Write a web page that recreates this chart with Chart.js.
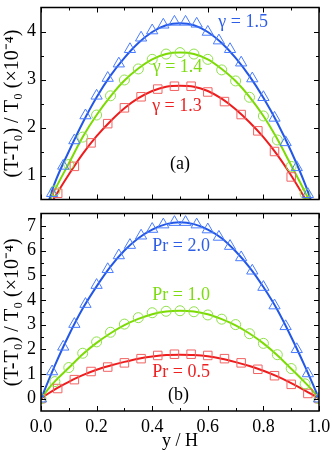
<!DOCTYPE html>
<html><head><meta charset="utf-8">
<script src="https://cdn.jsdelivr.net/npm/chart.js@4"></script>
<style>
html,body{margin:0;padding:0;background:#fff;}
#wrap{position:relative;width:332px;height:453px;overflow:hidden;}
#c1{position:absolute;left:0;top:0;}
#c2{position:absolute;left:0;top:206px;}
</style></head><body>
<div id="wrap">
<canvas id="c1" width="332" height="207" style="width:332px;height:207px"></canvas>
<canvas id="c2" width="332" height="247" style="width:332px;height:247px"></canvas>
</div>
<script>
// ---------- data ----------
const lineX = [0,0.025,0.05,0.1,0.15,0.2,0.25,0.3,0.35,0.4,0.45,0.5,0.55,0.6,0.65,0.7,0.75,0.8,0.85,0.9,0.95,0.975,1];
const gamma15Line = [0,0.42,0.85,1.5,2.1,2.63,3.08,3.45,3.76,3.99,4.13,4.17,4.13,3.99,3.76,3.45,3.07,2.62,2.1,1.5,0.82,0.42,0];
const gamma14Line = [0,0.38,0.7,1.25,1.8,2.26,2.65,2.98,3.23,3.42,3.53,3.56,3.53,3.42,3.22,2.97,2.64,2.24,1.76,1.21,0.65,0.35,0];
const gamma13Line = [0,0.28,0.55,1.02,1.45,1.82,2.13,2.4,2.61,2.76,2.85,2.87,2.85,2.76,2.6,2.38,2.11,1.8,1.43,1.0,0.52,0.27,0];
const pr20Line = [0,0.68,1.35,2.57,3.65,4.55,5.35,6.0,6.5,6.85,7.07,7.15,7.07,6.85,6.5,5.97,5.32,4.52,3.6,2.5,1.3,0.66,0];
const pr10Line = [0,0.38,0.7,1.25,1.8,2.26,2.65,2.98,3.23,3.42,3.53,3.56,3.53,3.42,3.22,2.97,2.64,2.24,1.76,1.21,0.65,0.35,0];
const pr05Line = [0,0.2,0.38,0.68,0.95,1.17,1.34,1.49,1.62,1.71,1.77,1.78,1.77,1.72,1.62,1.48,1.32,1.13,0.9,0.63,0.33,0.17,0];

const triX  = [0,0.04,0.08,0.12,0.16,0.2,0.24,0.28,0.32,0.36,0.4,0.44,0.48,0.52,0.56,0.6,0.64,0.68,0.72,0.76,0.8,0.84,0.88,0.92,0.96,1];
const circX = [0,0.05,0.1,0.15,0.2,0.25,0.3,0.35,0.4,0.45,0.5,0.55,0.6,0.65,0.7,0.75,0.8,0.85,0.9,0.95,1];
const sqX   = [0,0.06,0.12,0.18,0.24,0.3,0.36,0.42,0.48,0.54,0.6,0.66,0.72,0.78,0.84,0.9,0.96,1];

const gamma15Tri  = [0,0.63,1.2,1.73,2.25,2.66,3.03,3.33,3.63,3.87,4.02,4.14,4.2,4.2,4.16,3.99,3.81,3.63,3.35,3.02,2.63,2.2,1.69,1.17,0.61,0];
const gamma14Circ = [0,0.68,1.23,1.8,2.26,2.66,2.99,3.22,3.42,3.53,3.56,3.53,3.42,3.2,2.97,2.63,2.24,1.74,1.19,0.62,0];
const gamma13Sq   = [0,0.63,1.19,1.68,2.08,2.41,2.64,2.8,2.86,2.86,2.74,2.54,2.27,1.93,1.5,0.97,0.3,0];

const pr20Tri  = [0,1.1,2.1,3.02,3.83,4.6,5.24,5.8,6.22,6.6,6.87,7.05,7.15,7.15,7.05,6.85,6.55,6.18,5.72,5.18,4.52,3.77,2.93,2.0,1.02,0];
const pr10Circ = [0,0.69,1.26,1.84,2.3,2.69,3.02,3.28,3.48,3.54,3.56,3.52,3.39,3.22,3.0,2.63,2.24,1.78,1.22,0.6,0];
const pr05Sq   = [0,0.41,0.77,1.1,1.28,1.45,1.62,1.75,1.8,1.8,1.75,1.62,1.45,1.19,0.93,0.58,0.21,0];

const xTicks = [0,0.2,0.4,0.6,0.8,1.0];
const xTickLabels = ['0.0','0.2','0.4','0.6','0.8','1.0'];
const xMinor = [0.1,0.3,0.5,0.7,0.9];
const yTopTicks = [1,2,3,4];
const yTopLabels = ['1','2','3','4'];
const yTopMinor = [1.5,2.5,3.5];
const yBotTicks = [0,1,2,3,4,5,6,7];
const yBotLabels = ['0','1','2','3','4','5','6','7'];
const yBotMinor = [0.5,1.5,2.5,3.5,4.5,5.5,6.5];

const topNotes = ['γ = 1.5','γ = 1.4','γ = 1.3','(a)'];
const topNoteX = [0.727,0.491,0.489,0.5];
const topNoteY = [4.19,3.25,2.45,1.24];
const botNotes = ['Pr = 2.0','Pr = 1.0','Pr = 0.5','(b)'];
const botNoteX = [0.504,0.504,0.504,0.495];
const botNoteY = [6.16,4.2,1.05,0.15];

const yTitle = '(T-T₀) / T₀ (×10⁻⁴)';
const xTitle = 'y / H';

// ---------- styles ----------
const C = {
  blueLine:'#2357e6', blueMk:'#4a7cff', blueTx:'#2d5ee8',
  greenLine:'#7cdb00', greenMk:'#8fe04a', greenTx:'#7cdc10',
  redLine:'#ee1c1c', redMk:'#f26262', redTx:'#ee2020'
};
const noteColors = [C.blueTx, C.greenTx, C.redTx, '#000'];

Chart.defaults.font.family = '"Liberation Serif","Times New Roman",serif';
Chart.defaults.font.size = 18;
Chart.defaults.color = '#000';

const pts = (xs, ys) => xs.map((x,i)=>({x, y: ys[i]}));

const frameTicks = {
  id:'frameTicks',
  afterDraw(chart, args, o){
    const {ctx, chartArea:a, scales:{x,y}} = chart;
    ctx.save();
    ctx.strokeStyle = '#000';
    ctx.lineWidth = 1;
    ctx.beginPath();
    const vx = (vals, len) => vals.forEach(v=>{ const p = Math.round(x.getPixelForValue(v))+0.5;
      ctx.moveTo(p, a.bottom); ctx.lineTo(p, a.bottom-len); ctx.moveTo(p, a.top); ctx.lineTo(p, a.top+len); });
    const vy = (vals, len) => vals.forEach(v=>{ const p = Math.round(y.getPixelForValue(v))+0.5;
      ctx.moveTo(a.left, p); ctx.lineTo(a.left+len, p); ctx.moveTo(a.right, p); ctx.lineTo(a.right-len, p); });
    vx(o.xMajor, 5); vx(o.xMinor, 3); vy(o.yMajor, 5); vy(o.yMinor, 3);
    ctx.stroke();
    ctx.lineWidth = 1.5;
    ctx.strokeRect(a.left, a.top, a.right-a.left, a.bottom-a.top);
    ctx.restore();
  }
};
const notes = {
  id:'notes',
  afterDatasetsDraw(chart, args, o){
    const {ctx, scales:{x,y}} = chart;
    ctx.save();
    ctx.font = '18px "Liberation Serif","Times New Roman",serif';
    ctx.textAlign = 'center'; ctx.textBaseline = 'middle';
    o.texts.forEach((t,i)=>{
      ctx.fillStyle = o.colors[i];
      ctx.fillText(t, x.getPixelForValue(o.xs[i]), y.getPixelForValue(o.ys[i]));
    });
    ctx.restore();
  }
};

function lineDs(xs, ys, color){
  return {type:'line', data: pts(xs, ys), borderColor: color, borderWidth: 2, pointRadius: 0,
    cubicInterpolationMode:'monotone', fill:false};
}
function mkDs(xs, ys, color, style, r){
  return {type:'scatter', data: pts(xs, ys), borderColor: color, backgroundColor:'rgba(0,0,0,0)',
    pointStyle: style, pointRadius: r, pointBorderWidth: 1, showLine:false};
}

function makeChart(id, cfg){
  const yScale = {
    type:'linear', min: cfg.yMin, max: cfg.yMax,
    afterBuildTicks: s => { s.ticks = cfg.yTicks.map(v=>({value:v})); },
    afterFit: s => { s.width = 41; s.paddingTop = 0; s.paddingBottom = 0; },
    grid:{display:false, drawTicks:false}, border:{display:false},
    ticks:{padding:5, color:'#000', font:{size:18}, callback:(v,i)=>cfg.yLabels[i]},
    title:{display:true, text: yTitle, color:'#000', font:{size:20}, padding:{top:1,bottom:0}}
  };
  const xScale = cfg.showX ? {
    type:'linear', min:0, max:1,
    afterBuildTicks: s => { s.ticks = xTicks.map(v=>({value:v})); },
    afterFit: s => { s.height = 42; s.paddingLeft = 0; s.paddingRight = 0; },
    grid:{display:false, drawTicks:false}, border:{display:false},
    ticks:{padding:5, color:'#000', font:{size:18}, maxRotation:0, autoSkip:false, callback:(v,i)=>xTickLabels[i]},
    title:{display:true, text: xTitle, color:'#000', font:{size:18}, padding:{top:0,bottom:1}}
  } : {type:'linear', min:0, max:1, display:false};
  return new Chart(document.getElementById(id), {
    data:{datasets: cfg.datasets},
    options:{
      responsive:false, animation:false, devicePixelRatio:1,
      layout:{padding: cfg.padding},
      scales:{x: xScale, y: yScale},
      plugins:{legend:{display:false}, tooltip:{enabled:false},
        frameTicks:{xMajor: xTicks, xMinor: xMinor, yMajor: cfg.yTicks, yMinor: cfg.yMinor},
        notes:{texts: cfg.notes, xs: cfg.noteX, ys: cfg.noteY, colors: noteColors}}
    },
    plugins:[frameTicks, notes]
  });
}

makeChart('c1', {
  yMin:0.5, yMax:4.5, yTicks:yTopTicks, yLabels:yTopLabels, yMinor:yTopMinor, showX:false,
  padding:{top:2, right:13, bottom:1, left:0},
  notes: topNotes, noteX: topNoteX, noteY: topNoteY,
  datasets:[
    mkDs(triX, gamma15Tri, C.blueMk, 'triangle', 6.5),
    mkDs(circX, gamma14Circ, C.greenMk, 'circle', 5),
    mkDs(sqX, gamma13Sq, C.redMk, 'rect', 6),
    lineDs(lineX, gamma15Line, C.blueLine),
    lineDs(lineX, gamma14Line, C.greenLine),
    lineDs(lineX, gamma13Line, C.redLine)
  ]
});
makeChart('c2', {
  yMin:-0.5, yMax:7.5, yTicks:yBotTicks, yLabels:yBotLabels, yMinor:yBotMinor, showX:true,
  padding:{top:0.5, right:13, bottom:0, left:0},
  notes: botNotes, noteX: botNoteX, noteY: botNoteY,
  datasets:[
    mkDs(triX, pr20Tri, C.blueMk, 'triangle', 6.5),
    mkDs(circX, pr10Circ, C.greenMk, 'circle', 5),
    mkDs(sqX, pr05Sq, C.redMk, 'rect', 6),
    lineDs(lineX, pr20Line, C.blueLine),
    lineDs(lineX, pr10Line, C.greenLine),
    lineDs(lineX, pr05Line, C.redLine)
  ]
});
</script>
</body></html>
